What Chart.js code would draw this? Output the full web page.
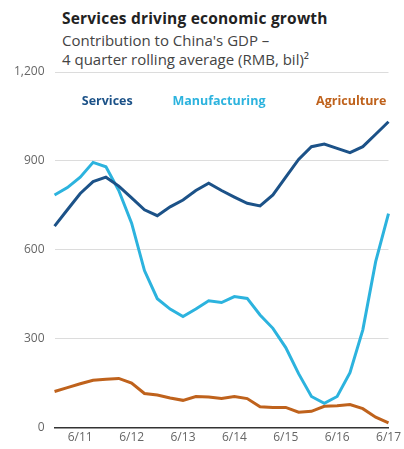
<!DOCTYPE html>
<html>
<head>
<meta charset="utf-8">
<script src="https://cdn.jsdelivr.net/npm/chart.js@4.4.1/dist/chart.umd.min.js"></script>
<style>
  html, body { margin: 0; padding: 0; background: #fff; }
  #wrap { position: relative; width: 404px; height: 449px; }
  #titulo { position: absolute; left: 62px; top: 7px; font: bold 15.5px "Open Sans", sans-serif; color: #222; letter-spacing: 0.2px; }
  #subtitulo { position: absolute; left: 62px; top: 31px; font: 15px "Open Sans", sans-serif; color: #444; line-height: 19px; }
  canvas { position: absolute; left: 0; top: 0; }
</style>
</head>
<body>
<div id="wrap">
  <div id="titulo">Services driving economic growth</div>
  <div id="subtitulo">Contribution to China's GDP –<br>4 quarter rolling average (RMB, bil)²</div>
  <canvas id="myChart" width="404" height="449"></canvas>
</div>
<script>
// trimestres, de 12/10 a 6/17
const trimestres = ['12/10', '3/11', '6/11', '9/11', '12/11', '3/12', '6/12', '9/12', '12/12',
  '3/13', '6/13', '9/13', '12/13', '3/14', '6/14', '9/14', '12/14', '3/15', '6/15', '9/15',
  '12/15', '3/16', '6/16', '9/16', '12/16', '3/17', '6/17'];

const servicios = [680, 735, 790, 830, 845, 815, 775, 735, 715, 745, 768, 800, 825, 800, 778,
  757, 748, 785, 845, 905, 948, 957, 942, 928, 948, 990, 1032];

const manufactura = [785, 810, 845, 895, 880, 800, 690, 530, 435, 400, 375, 400, 428, 422, 442,
  436, 380, 335, 270, 182, 105, 82, 105, 185, 330, 560, 722];

const agricultura = [122, 135, 148, 160, 163, 166, 150, 115, 110, 100, 92, 105, 103, 98, 105,
  98, 70, 68, 68, 52, 55, 72, 74, 78, 64, 35, 16];

const ticksY = [0, 300, 600, 900, 1200];

// etiquetas de series dibujadas dentro del grafico
const etiquetasSeries = {
  id: 'etiquetasSeries',
  afterDatasetsDraw(chart, args, opts) {
    const { ctx, scales: { x, y } } = chart;
    ctx.save();
    ctx.font = 'bold 12.5px "Open Sans", sans-serif';
    ctx.textAlign = 'center';
    ctx.textBaseline = 'middle';
    chart.data.datasets.forEach((ds, i) => {
      const pos = opts.posiciones[i];
      ctx.fillStyle = ds.borderColor;
      ctx.fillText(ds.label, x.getPixelForValue(pos[0]), y.getPixelForValue(pos[1]));
    });
    ctx.restore();
  }
};

const ctx = document.getElementById('myChart');
new Chart(ctx, {
  type: 'line',
  data: {
    labels: trimestres,
    datasets: [
      { label: 'Services', data: servicios, borderColor: '#1c5288' },
      { label: 'Manufacturing', data: manufactura, borderColor: '#2cb3de' },
      { label: 'Agriculture', data: agricultura, borderColor: '#bf621c' }
    ]
  },
  options: {
    responsive: false,
    animation: false,
    layout: { padding: { top: 72, right: 8, left: 4, bottom: 1 } },
    elements: {
      line: { borderWidth: 3, tension: 0 },
      point: { radius: 0 }
    },
    plugins: {
      legend: { display: false },
      tooltip: { enabled: false },
      etiquetasSeries: { posiciones: [[4.1, 1100], [12.8, 1100], [23.1, 1100]] }
    },
    scales: {
      x: {
        offset: false,
        grid: { display: false, drawTicks: false },
        border: { display: true, color: '#333', width: 1.5 },
        ticks: {
          autoSkip: false,
          maxRotation: 0,
          padding: 3,
          color: '#666',
          font: { family: '"Open Sans", sans-serif', size: 12 },
          callback: function (valor) {
            const lab = this.getLabelForValue(valor);
            return lab.startsWith('6/') ? lab : '';
          }
        }
      },
      y: {
        min: 0,
        max: 1200,
        afterBuildTicks: (escala) => { escala.ticks = ticksY.map(v => ({ value: v })); },
        grid: { color: '#dcdcdc', drawTicks: false },
        border: { display: false },
        ticks: {
          padding: 10,
          color: '#666',
          font: { family: '"Open Sans", sans-serif', size: 12 },
          callback: (v) => v.toLocaleString('en-US')
        }
      }
    }
  },
  plugins: [etiquetasSeries]
});
</script>
</body>
</html>
